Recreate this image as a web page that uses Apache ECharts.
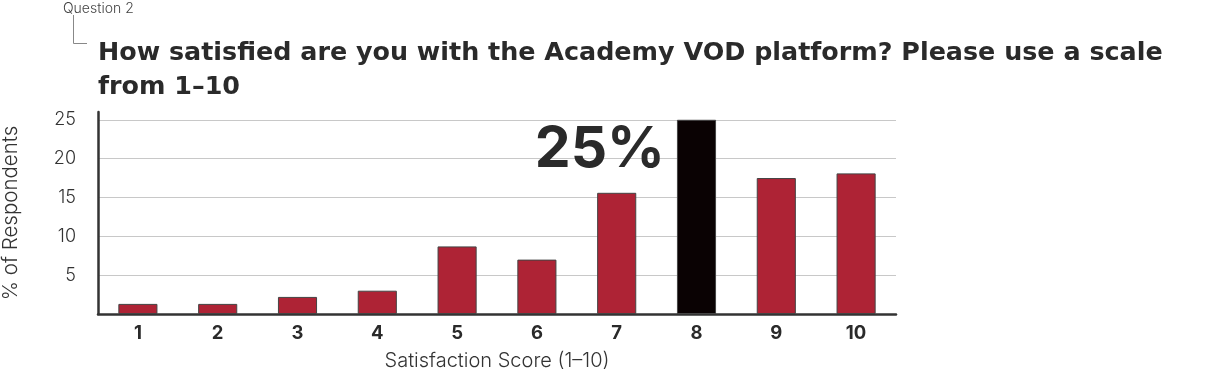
<!DOCTYPE html>
<html><head><meta charset="utf-8">
<script src="https://cdn.jsdelivr.net/npm/echarts@6/dist/echarts.min.js"></script>
<style>html,body{margin:0;padding:0;background:#fff}#c{width:1213px;height:372px}</style>
</head><body><div id="c"></div>
<script>
const categories = ['1','2','3','4','5','6','7','8','9','10'];
const values = [1.3, 1.3, 2.2, 3.0, 8.7, 7.0, 15.6, 25.0, 17.5, 18.1];
const highlightIndex = 7;
const yTicks = [0, 5, 10, 15, 20, 25];

const FONT = 'Inter, "Noto Sans", sans-serif';
const TFONT = '"DejaVu Sans", Inter, sans-serif';
const chart = echarts.init(document.getElementById('c'), null, {renderer:'canvas'});
const data = values.map((v, i) => {
  if (i === highlightIndex) {
    return {
      value: v,
      itemStyle: {color: '#0a0203'},
      label: {
        show: true, position: 'left', distance: 12, offset: [0, -67],
        formatter: '{c}%', fontFamily: FONT, fontWeight: 'bold', fontSize: 57, color: '#2a2a2a'
      }
    };
  }
  return v;
});
chart.setOption({
  animation: false,
  title: {
    text: 'How satisfied are you with the Academy VOD platform? Please use a scale\nfrom 1\u201310',
    left: 93, top: 31,
    textStyle: {fontFamily: TFONT, fontWeight: 'bold', fontSize: 25.4, lineHeight: 34, color: '#2a2a2a'}
  },
  graphic: [
    {type: 'text', left: 63, top: 2, style: {text: 'Question 2', font: '300 14px ' + FONT, fill: '#444'}},
    {type: 'polyline', shape: {points: [[73.5, 15], [73.5, 43.5], [87, 43.5]]}, style: {stroke: '#888', lineWidth: 1, fill: null}}
  ],
  grid: {left: 98, right: 317, top: 112, bottom: 58, outerBoundsMode: 'none', containLabel: false},
  xAxis: {
    type: 'category', data: categories,
    axisLine: {lineStyle: {color: '#333', width: 2.5}},
    axisTick: {show: false},
    axisLabel: {fontFamily: FONT, fontWeight: 'bold', fontSize: 18.5, color: '#2a2a2a', margin: 10},
    name: 'Satisfaction Score (1\u201310)', nameLocation: 'middle', nameGap: 37,
    nameTextStyle: {fontFamily: FONT, fontSize: 20, color: '#333', fontWeight: 300}
  },
  yAxis: {
    type: 'value', min: 0, max: 26, interval: 5,
    axisLine: {show: true, lineStyle: {color: '#333', width: 2.5}},
    axisTick: {show: false},
    axisLabel: {
      fontFamily: FONT, fontSize: 18, color: '#333', fontWeight: 300, margin: 22,
      showMinLabel: false, showMaxLabel: false,
      formatter: v => yTicks.includes(v) && v !== 0 ? String(v) : ''
    },
    splitLine: {show: true, showMaxLine: false, lineStyle: {color: '#c8c8c8', width: 1}},
    name: '% of Respondents', nameLocation: 'middle', nameGap: 77,
    nameTextStyle: {fontFamily: FONT, fontSize: 20.5, color: '#333', fontWeight: 300}
  },
  series: [{
    type: 'bar', data: data, barWidth: '49%',
    itemStyle: {color: '#ae2335', borderColor: '#444', borderWidth: 1}
  }]
});
</script></body></html>
